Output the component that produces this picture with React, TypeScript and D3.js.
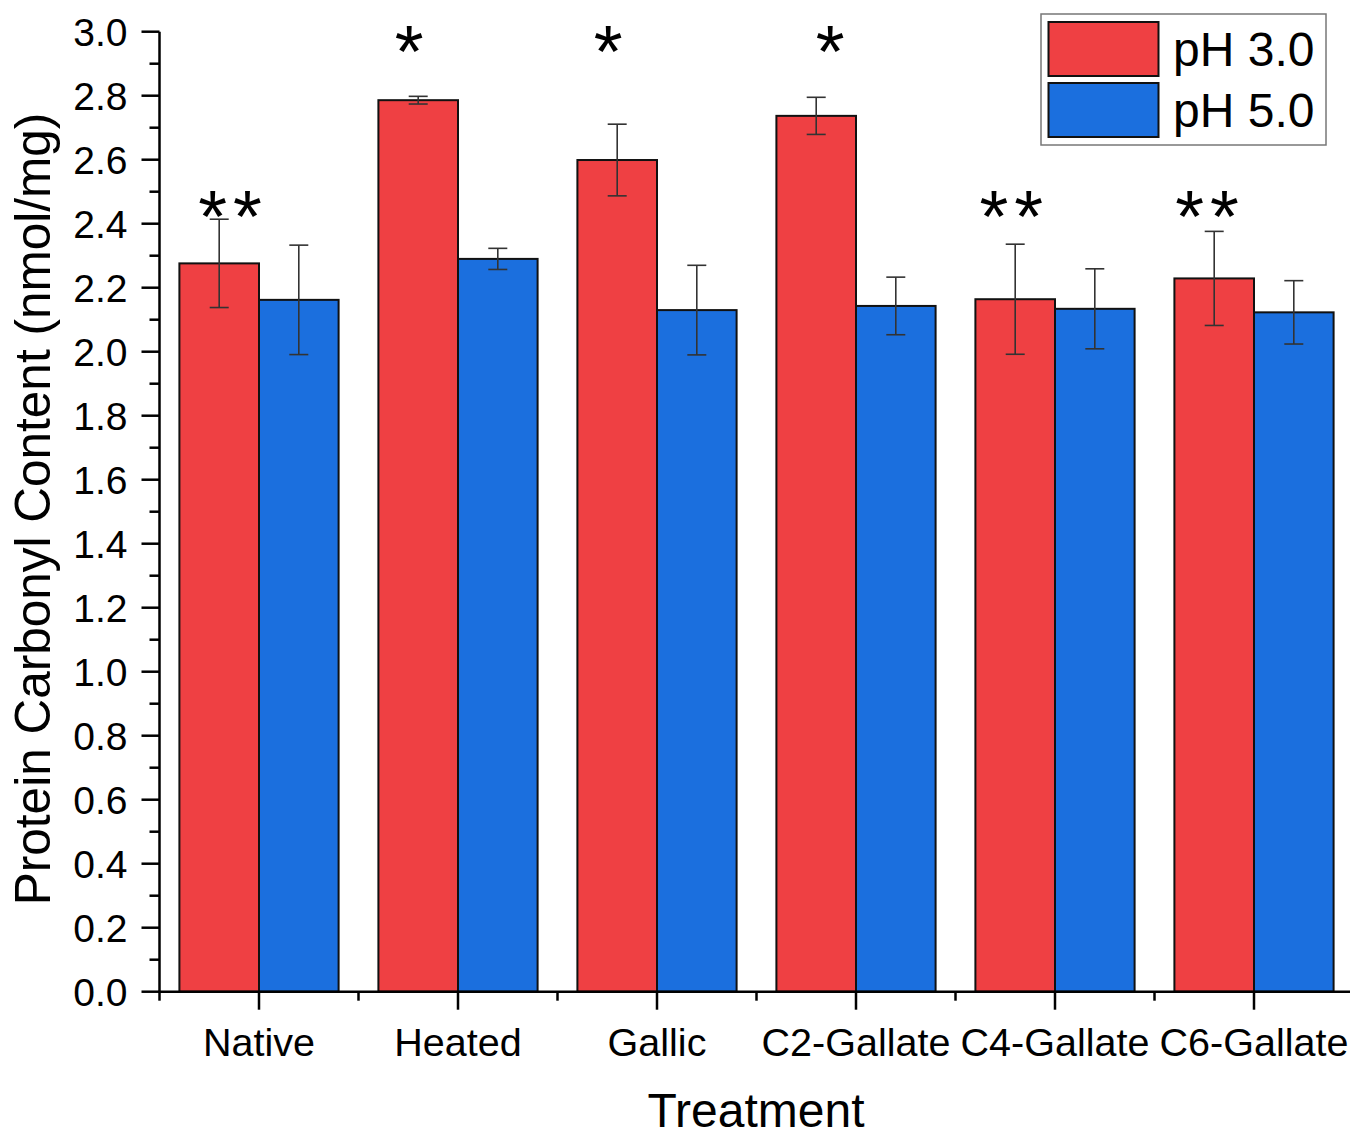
import React from "react";
import * as d3 from "d3";

const categories = ["Native", "Heated", "Gallic", "C2-Gallate", "C4-Gallate", "C6-Gallate"];
const seriesNames = ["pH 3.0", "pH 5.0"];
const ph3Values = [2.276, 2.786, 2.599, 2.737, 2.164, 2.229];
const ph3Errors = [0.138, 0.012, 0.112, 0.058, 0.172, 0.147];
const ph5Values = [2.162, 2.29, 2.13, 2.143, 2.134, 2.123];
const ph5Errors = [0.171, 0.033, 0.14, 0.09, 0.125, 0.099];
const yTicks = [0, 0.2, 0.4, 0.6, 0.8, 1.0, 1.2, 1.4, 1.6, 1.8, 2.0, 2.2, 2.4, 2.6, 2.8, 3.0];
const sigText = ["**", "*", "*", "*", "**", "**"];
const sigLevel = [2.452, 2.968, 2.968, 2.968, 2.452, 2.452];
const sigShift = [-0.146, -0.246, -0.246, -0.13, -0.22, -0.236];

const colors = ["#EF4043", "#1B6FDE"];
const FONT = "Arial, 'Liberation Sans', Helvetica, sans-serif";

export default function App() {
  const W = 1350, H = 1136;
  const x0 = 159.5, xEnd = 1353.5;
  const y = d3.scaleLinear().domain([0, 3]).range([991.7, 31.7]);
  const x = d3.scaleBand<string>().domain(categories).range([x0, xEnd]).paddingInner(0.2).paddingOuter(0.1);
  const step = x.step();
  const bw = x.bandwidth() / 2;
  const series = [
    { vals: ph3Values, errs: ph3Errors },
    { vals: ph5Values, errs: ph5Errors },
  ];
  const minorY = d3.range(1, 30, 2).map((d) => d / 10);
  const cap = 9.5;
  const starSize = 74;
  const starGap = 6;

  return (
    <div style={{ position: "absolute", left: 0, top: 0 }}>
      <svg width={W} height={H} style={{ display: "block", background: "#fff" }} fontFamily={FONT}>
        {/* bars */}
        {series.map((s, si) =>
          categories.map((c, i) => {
            const bx = (x(c) as number) + si * bw;
            return (
              <rect key={`b${si}-${i}`} x={bx} y={y(s.vals[i])} width={bw} height={y(0) - y(s.vals[i])}
                fill={colors[si]} stroke="#111" strokeWidth={2} />
            );
          })
        )}
        {/* error bars */}
        {series.map((s, si) =>
          categories.map((c, i) => {
            const cx = (x(c) as number) + si * bw + bw / 2;
            const top = y(s.vals[i] + s.errs[i]);
            const bot = y(s.vals[i] - s.errs[i]);
            return (
              <g key={`e${si}-${i}`} stroke="#333" strokeWidth={1.6}>
                <line x1={cx} x2={cx} y1={top} y2={bot} />
                <line x1={cx - cap} x2={cx + cap} y1={top} y2={top} />
                <line x1={cx - cap} x2={cx + cap} y1={bot} y2={bot} />
              </g>
            );
          })
        )}
        {/* significance */}
        {categories.map((c, i) => {
          const cx = (x(c) as number) + x.bandwidth() / 2 + sigShift[i] * step;
          return (
            <text key={`s${i}`} x={cx + starGap / 2} y={y(sigLevel[i])} dy="0.47em" textAnchor="middle"
              fontSize={starSize} letterSpacing={starGap} fill="#000">
              {sigText[i]}
            </text>
          );
        })}
        {/* y axis */}
        <line x1={x0} x2={x0} y1={y(0) + 1} y2={y(3)} stroke="#000" strokeWidth={2.5} />
        {yTicks.map((t) => (
          <g key={`yt${t}`}>
            <line x1={x0 - 18} x2={x0} y1={y(t)} y2={y(t)} stroke="#000" strokeWidth={2.5} />
            <text x={x0 - 32} y={y(t)} dy="0.36em" textAnchor="end" fontSize={39} fill="#000">
              {d3.format(".1f")(t)}
            </text>
          </g>
        ))}
        {minorY.map((t) => (
          <line key={`ym${t}`} x1={x0 - 10} x2={x0} y1={y(t)} y2={y(t)} stroke="#000" strokeWidth={2.5} />
        ))}
        {/* x axis */}
        <line x1={x0 - 1} x2={xEnd} y1={y(0)} y2={y(0)} stroke="#000" strokeWidth={2.5} />
        {categories.map((c, i) => {
          const cx = (x(c) as number) + x.bandwidth() / 2;
          return (
            <g key={`xt${i}`}>
              <line x1={cx} x2={cx} y1={y(0)} y2={y(0) + 18} stroke="#000" strokeWidth={2.5} />
              <line x1={cx + step / 2} x2={cx + step / 2} y1={y(0)} y2={y(0) + 9} stroke="#000" strokeWidth={2.5} />
              <text x={cx} y={1056} textAnchor="middle" fontSize={39.5} fill="#000">{c}</text>
            </g>
          );
        })}
        <line x1={x0} x2={x0} y1={y(0)} y2={y(0) + 9} stroke="#000" strokeWidth={2.5} />
        {/* axis titles */}
        <text x={756} y={1127} textAnchor="middle" fontSize={48} fill="#000">Treatment</text>
        <text transform={`translate(50, ${509}) rotate(-90)`} textAnchor="middle" fontSize={49.5} fill="#000">
          Protein Carbonyl Content (nmol/mg)
        </text>
        {/* legend */}
        <rect x={1041} y={14} width={285} height={131} fill="#fff" stroke="#777" strokeWidth={1.5} />
        {seriesNames.map((n, i) => (
          <g key={`lg${i}`}>
            <rect x={1048.5} y={22 + i * 61} width={110} height={54} fill={colors[i]} stroke="#111" strokeWidth={2} />
            <text x={1173} y={66 + i * 61} fontSize={48} fill="#000">{n}</text>
          </g>
        ))}
      </svg>
    </div>
  );
}
